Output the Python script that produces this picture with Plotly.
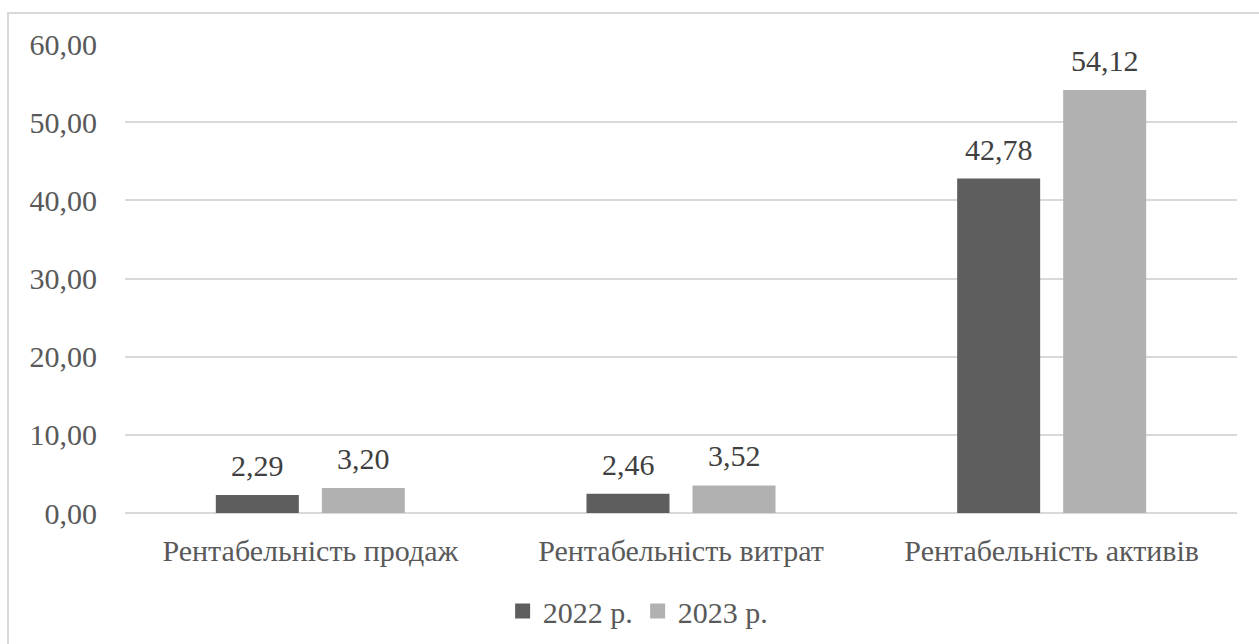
import plotly.graph_objects as go

categories = ["Рентабельність продаж", "Рентабельність витрат", "Рентабельність активів"]
series_names = ["2022 р.", "2023 р."]
values_2022 = [2.29, 2.46, 42.78]
values_2023 = [3.20, 3.52, 54.12]
tick_vals = [0, 10, 20, 30, 40, 50, 60]
tick_text = ["0,00", "10,00", "20,00", "30,00", "40,00", "50,00", "60,00"]

colors = ["#5e5e5e", "#b1b1b1"]
FONT = "'Liberation Serif', 'Times New Roman', Times, serif"
FS = 30

def fmt(v):
    return f"{v:.2f}".replace(".", ",")

fig = go.Figure()
for name, vals, col in zip(series_names, [values_2022, values_2023], colors):
    fig.add_trace(go.Bar(
        x=categories, y=vals, name=name, showlegend=False,
        marker=dict(color=col, line=dict(width=0)),
    ))
# legend proxies with larger square symbols
for name, col in zip(series_names, colors):
    fig.add_trace(go.Scatter(
        x=[None], y=[None], mode="markers", name=name,
        marker=dict(symbol="square", size=15, color=col, line=dict(width=0)),
    ))

annotations = []
for vals, shift in zip([values_2022, values_2023], [-53, 53]):
    for c, v in zip(categories, vals):
        annotations.append(dict(
            x=c, y=v, xref="x", yref="y", text=fmt(v), showarrow=False,
            xshift=shift, yshift=11, yanchor="bottom",
            font=dict(family=FONT, size=FS, color="#404040"),
        ))

fig.update_layout(
    width=1259, height=644,
    margin=dict(l=125, r=22, t=44, b=131),
    paper_bgcolor="white", plot_bgcolor="white",
    barmode="group", bargap=0.428, bargroupgap=0.217,
    font=dict(family=FONT, size=FS, color="#595959"),
    showlegend=True,
    legend=dict(orientation="h", x=0.461, xanchor="center",
                yref="container", y=0.0512, yanchor="middle",
                font=dict(family=FONT, size=FS, color="#595959"),
                itemwidth=30, traceorder="normal"),
    xaxis=dict(showline=False, ticks="", ticklabelstandoff=17, automargin=False,
               tickfont=dict(family=FONT, size=FS, color="#595959")),
    yaxis=dict(range=[0, 60], tickvals=tick_vals, ticktext=tick_text, automargin=False,
               showgrid=True, gridcolor="#d9d9d9", gridwidth=2,
               zeroline=True, zerolinecolor="#d9d9d9", zerolinewidth=2,
               ticks="", ticklabelstandoff=27,
               tickfont=dict(family=FONT, size=FS, color="#595959")),
    annotations=annotations,
    shapes=[dict(type="rect", xref="paper", yref="paper",
                 x0=-0.1052, x1=1.2, y0=-0.5, y1=1.066,
                 line=dict(color="#d9d9d9", width=2), fillcolor="rgba(0,0,0,0)", layer="below")],
)

fig.write_html("out.html")
